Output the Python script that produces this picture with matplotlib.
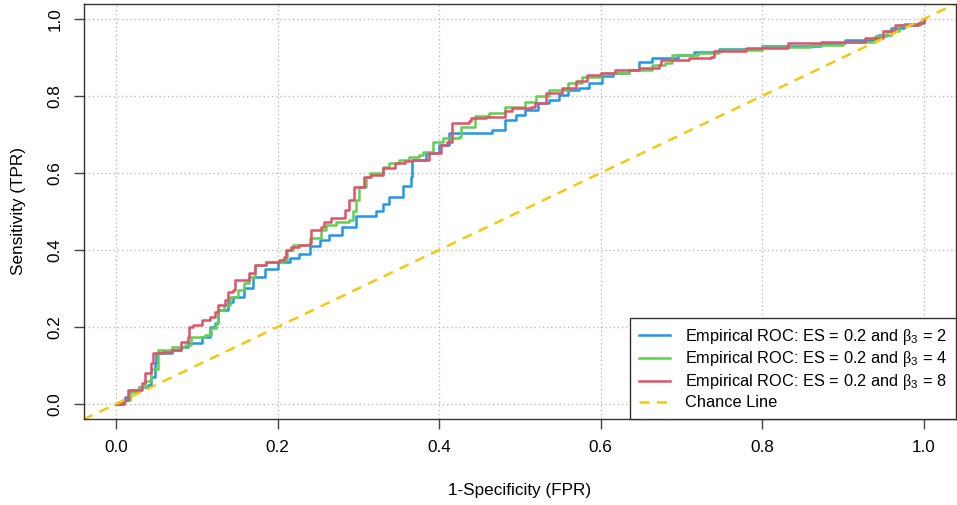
import matplotlib.pyplot as plt
import numpy as np

plt.rcParams["font.family"] = ["Liberation Sans", "DejaVu Sans"]
plt.rcParams["mathtext.fontset"] = "custom"
plt.rcParams["mathtext.rm"] = "Liberation Sans"
plt.rcParams["mathtext.it"] = "Liberation Serif"

# empirical ROC vertices (FPR, TPR)
fpr_b2 = [0, 0.007, 0.011, 0.017, 0.028, 0.04, 0.044, 0.048, 0.05, 0.069, 0.081, 0.089,
          0.106, 0.116, 0.122, 0.126, 0.139, 0.145, 0.158, 0.17, 0.185, 0.2, 0.215, 0.227,
          0.24, 0.252, 0.264, 0.28, 0.297, 0.322, 0.33, 0.338, 0.355, 0.365, 0.367, 0.384,
          0.4, 0.412, 0.449, 0.466, 0.482, 0.495, 0.507, 0.523, 0.536, 0.548, 0.56, 0.573,
          0.585, 0.602, 0.615, 0.635, 0.647, 0.663, 0.696, 0.715, 0.746, 0.8, 0.853, 0.873,
          0.902, 0.943, 0.96, 0.976, 0.996, 1.0]
tpr_b2 = [0, 0.006, 0.019, 0.036, 0.043, 0.049, 0.071, 0.106, 0.132, 0.14, 0.149, 0.158,
          0.175, 0.2, 0.21, 0.244, 0.266, 0.279, 0.30, 0.33, 0.35, 0.37, 0.379, 0.39,
          0.41, 0.425, 0.44, 0.46, 0.487, 0.5, 0.52, 0.538, 0.565, 0.59, 0.634, 0.651,
          0.673, 0.703, 0.703, 0.712, 0.738, 0.75, 0.764, 0.781, 0.79, 0.803, 0.816, 0.82,
          0.833, 0.851, 0.86, 0.867, 0.889, 0.898, 0.906, 0.915, 0.921, 0.93, 0.93, 0.937,
          0.945, 0.958, 0.976, 0.987, 0.993, 1.0]

fpr_b4 = [0, 0.01, 0.017, 0.028, 0.036, 0.044, 0.052, 0.069, 0.085, 0.093, 0.11, 0.118,
          0.124, 0.126, 0.134, 0.141, 0.151, 0.159, 0.165, 0.172, 0.186, 0.207, 0.212,
          0.219, 0.24, 0.254, 0.26, 0.272, 0.289, 0.293, 0.297, 0.301, 0.31, 0.314, 0.33,
          0.338, 0.35, 0.363, 0.375, 0.38, 0.392, 0.405, 0.425, 0.427, 0.445, 0.462, 0.482,
          0.507, 0.52, 0.536, 0.56, 0.577, 0.6, 0.635, 0.663, 0.68, 0.688, 0.72, 0.746,
          0.8, 0.86, 0.9, 0.94, 0.955, 0.97, 0.995, 1.0]
tpr_b4 = [0, 0.01, 0.03, 0.043, 0.06, 0.09, 0.14, 0.149, 0.153, 0.175, 0.18, 0.197,
          0.21, 0.244, 0.257, 0.279, 0.296, 0.313, 0.331, 0.361, 0.368, 0.374, 0.4,
          0.413, 0.43, 0.452, 0.465, 0.474, 0.478, 0.50, 0.53, 0.564, 0.59, 0.6, 0.615,
          0.625, 0.633, 0.642, 0.647, 0.655, 0.681, 0.69, 0.694, 0.72, 0.748, 0.755, 0.772,
          0.785, 0.8, 0.816, 0.833, 0.85, 0.86, 0.868, 0.881, 0.885, 0.906, 0.912, 0.92,
          0.928, 0.932, 0.94, 0.955, 0.97, 0.985, 0.993, 1.0]

fpr_b8 = [0, 0.01, 0.015, 0.032, 0.036, 0.044, 0.046, 0.057, 0.069, 0.081, 0.089, 0.091,
          0.096, 0.106, 0.116, 0.122, 0.126, 0.135, 0.139, 0.145, 0.147, 0.165, 0.172,
          0.186, 0.202, 0.208, 0.211, 0.217, 0.227, 0.24, 0.242, 0.254, 0.258, 0.266, 0.281,
          0.283, 0.289, 0.295, 0.307, 0.316, 0.33, 0.346, 0.358, 0.367, 0.388, 0.402, 0.41,
          0.416, 0.437, 0.44, 0.458, 0.482, 0.49, 0.514, 0.519, 0.532, 0.552, 0.569, 0.583,
          0.6, 0.618, 0.647, 0.672, 0.675, 0.709, 0.737, 0.74, 0.78, 0.832, 0.873, 0.927,
          0.95, 0.965, 0.993, 1.0]
tpr_b8 = [0, 0.01, 0.036, 0.054, 0.08, 0.106, 0.132, 0.136, 0.14, 0.162, 0.175, 0.2,
          0.205, 0.218, 0.225, 0.24, 0.257, 0.27, 0.292, 0.296, 0.322, 0.34, 0.361,
          0.37, 0.374, 0.382, 0.4, 0.409, 0.413, 0.417, 0.452, 0.46, 0.474, 0.482, 0.482,
          0.504, 0.53, 0.564, 0.59, 0.595, 0.612, 0.625, 0.63, 0.634, 0.651, 0.673, 0.68,
          0.729, 0.734, 0.742, 0.746, 0.76, 0.768, 0.772, 0.781, 0.807, 0.82, 0.838, 0.855,
          0.86, 0.868, 0.872, 0.881, 0.894, 0.898, 0.902, 0.918, 0.925, 0.937, 0.941, 0.95,
          0.97, 0.985, 0.99, 1.0]

ticks = [0.0, 0.2, 0.4, 0.6, 0.8, 1.0]
tick_labels = ["0.0", "0.2", "0.4", "0.6", "0.8", "1.0"]

labels = [
    r"Empirical ROC: ES$\,=\,$0.2 and $\beta_{\mathrm{3}}\,\mathrm{=}\,\mathrm{2}$",
    r"Empirical ROC: ES$\,=\,$0.2 and $\beta_{\mathrm{3}}\,\mathrm{=}\,\mathrm{4}$",
    r"Empirical ROC: ES$\,=\,$0.2 and $\beta_{\mathrm{3}}\,\mathrm{=}\,\mathrm{8}$",
    "Chance Line",
]
colors = ["#2297E6", "#61D04F", "#DF536B", "#F5C710"]
fs = 12.3


fig = plt.figure(figsize=(9.57, 5.05), dpi=100)
ax = fig.add_axes([0.0874, 0.1695, 0.9116, 0.8234])

for t in ticks:
    ax.axvline(t, color="#bdbdbd", lw=1.0, ls=(0, (1, 2)), zorder=0)
    ax.axhline(t, color="#bdbdbd", lw=1.0, ls=(0, (1, 2)), zorder=0)

curves = [(fpr_b2, tpr_b2), (fpr_b4, tpr_b4), (fpr_b8, tpr_b8)]
for (x, y), c, lab in zip(curves, colors[:3], labels[:3]):
    ax.plot(x, y, drawstyle="steps-post", color=c, lw=1.8, label=lab)

lims = [-0.04, 1.04]
ax.plot(lims, lims, color=colors[3], lw=1.8, ls=(0, (4, 3)), label=labels[3])

ax.set_xlim(lims)
ax.set_ylim(lims)
ax.set_xticks(ticks)
ax.set_xticklabels(tick_labels)
ax.set_yticks(ticks)
ax.set_yticklabels(tick_labels, rotation=90, va="center")
ax.tick_params(direction="out", length=7, width=1, color="#444444",
               labelsize=fs, pad=8)
for s in ax.spines.values():
    s.set_color("#333333")
    s.set_linewidth(1.0)

ax.set_xlabel("1-Specificity (FPR)", fontsize=fs, labelpad=20)
ax.set_ylabel("Sensitivity (TPR)", fontsize=fs, labelpad=16)

leg = ax.legend(loc="lower right", bbox_to_anchor=(1.0, 0.0), borderaxespad=0,
                fontsize=11.8, frameon=True, fancybox=False, handlelength=1.9,
                labelspacing=0.18, borderpad=0.55, handletextpad=0.9)
leg.get_frame().set_edgecolor("#333333")
leg.get_frame().set_linewidth(1.0)
leg.get_frame().set_alpha(1)

fig.savefig("out.png", dpi=100)
